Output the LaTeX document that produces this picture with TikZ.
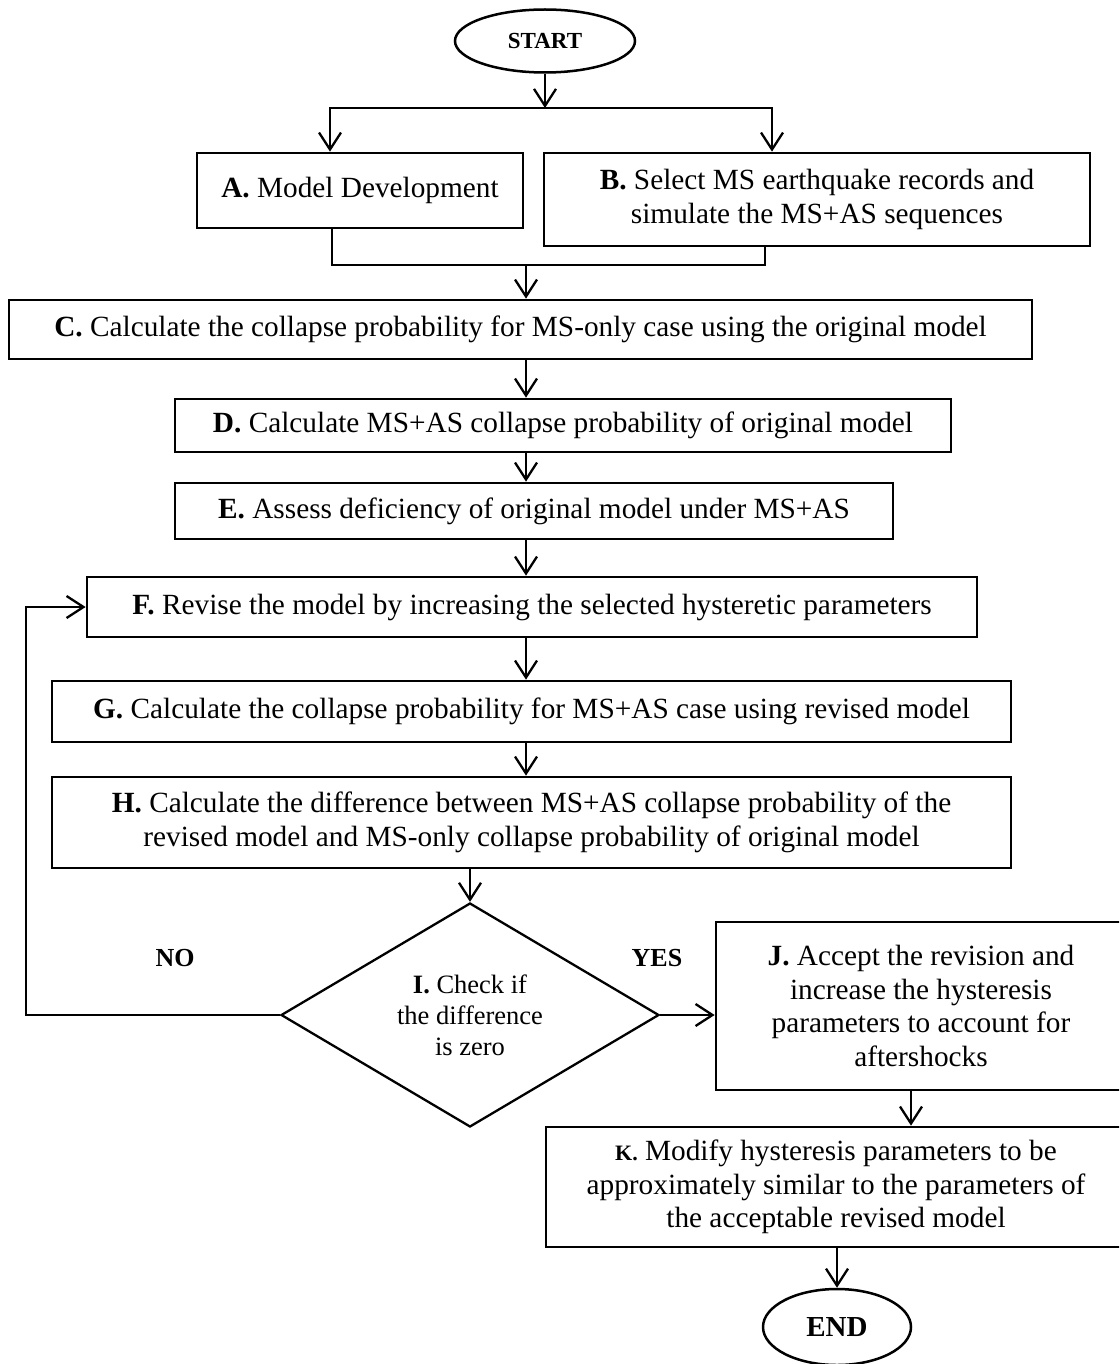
\documentclass[tikz,border=0pt]{standalone}
\usepackage{fontspec}
\setmainfont{Liberation Serif}
\usetikzlibrary{arrows.meta,shapes.geometric}
\begin{document}
\begin{tikzpicture}[x=1pt,y=-1pt,
  box/.style={draw, line width=2.7pt, rectangle, inner sep=0pt, align=center,
    font=\fontsize{29.3}{33.7}\selectfont},
  conn/.style={line width=2.3pt, line cap=rect, line join=miter},
  arr/.style={line width=2.3pt, line join=miter, -{Straight Barb[length=17pt,width=22pt]}},
  term/.style={draw, ellipse, line width=2.5pt, inner sep=0pt},
  lbl/.style={font=\bfseries\fontsize{26}{30}\selectfont, inner sep=0pt}]
\useasboundingbox (0,0) rectangle (1119,1364);
\clip (0,0) rectangle (1119,1364);

% nodes
\node[term, minimum width=180pt, minimum height=63pt,
  font=\bfseries\fontsize{23}{27}\selectfont] (start) at (545,41) {START};
\node[box, minimum width=326pt, minimum height=75pt] (A) at (360,190.5)
  {\textbf{A.} Model Development};
\node[box, minimum width=546pt, minimum height=93pt] (B) at (817,199.5)
  {\textbf{B.} Select MS earthquake records and\\simulate the MS+AS sequences};
\node[box, minimum width=1023pt, minimum height=59pt] (C) at (520.5,329.5)
  {\textbf{C.} Calculate the collapse probability for MS-only case using the original model};
\node[box, minimum width=776pt, minimum height=53pt] (D) at (563,425.5)
  {\textbf{D.} Calculate MS+AS collapse probability of original model};
\node[box, minimum width=718pt, minimum height=56pt] (E) at (534,511)
  {\textbf{E.} Assess deficiency of original model under MS+AS};
\node[box, minimum width=890pt, minimum height=60pt] (F) at (532,607)
  {\textbf{F.} Revise the model by increasing the selected hysteretic parameters};
\node[box, minimum width=959pt, minimum height=61pt] (G) at (531.5,711.5)
  {\textbf{G.} Calculate the collapse probability for MS+AS case using revised model};
\node[box, minimum width=959pt, minimum height=91pt] (H) at (531.5,822.5)
  {\textbf{H.} Calculate the difference between MS+AS collapse probability of the\\revised model and MS-only collapse probability of original model};
\node[draw, diamond, line width=2.3pt, inner sep=0pt, aspect=1.69,
  minimum width=378pt, minimum height=224pt, align=center,
  font=\fontsize{26.5}{30.8}\selectfont] (I) at (470,1015)
  {\textbf{I.} Check if\\the difference\\is zero};
\node[box, minimum width=410pt, minimum height=168pt] (J) at (921,1006)
  {\textbf{J.} Accept the revision and\\increase the hysteresis\\parameters to account for\\aftershocks};
\node[box, minimum width=580pt, minimum height=120pt] (K) at (836,1187)
  {{\bfseries\fontsize{22}{33.7}\selectfont K.} Modify hysteresis parameters to be\\approximately similar to the parameters of\\the acceptable revised model};
\node[term, minimum width=148pt, minimum height=76pt,
  font=\bfseries\fontsize{29}{33}\selectfont] (end) at (837,1327) {END};
\node[lbl] (no) at (175,958) {NO};
\node[lbl] (yes) at (657,958) {YES};

% helper coordinates
\coordinate (sp) at (545,108);
\coordinate (axL) at (330,0);
\coordinate (axR) at (772,0);
\coordinate (aB) at (332,0);
\coordinate (bB) at (765,0);
\coordinate (mg) at (526,265);
\coordinate (ax) at (526,0);
\coordinate (loop) at (26,0);
\coordinate (jk) at (911,0);

% connectors
\draw[arr] (start.south) -- (start.south |- sp);
\draw[conn] (sp -| axL) -- (sp -| axR);
\draw[arr] (sp -| axL) -- (A.north -| axL);
\draw[arr] (sp -| axR) -- (B.north -| axR);
\draw[conn] (A.south -| aB) |- (mg) -| (B.south -| bB);
\draw[arr] (mg) -- (C.north -| mg);
\draw[arr] (C.south -| ax) -- (D.north -| ax);
\draw[arr] (D.south -| ax) -- (E.north -| ax);
\draw[arr] (E.south -| ax) -- (F.north -| ax);
\draw[arr] (F.south -| ax) -- (G.north -| ax);
\draw[arr] (G.south -| ax) -- (H.north -| ax);
\draw[arr] (H.south -| I.north) -- (I.north);
\draw[arr] (I.west) -- (I.west -| loop) -- (loop |- F.west) -- (F.west);
\draw[arr] (I.east) -- (I.east -| J.west);
\draw[arr] (J.south -| jk) -- (K.north -| jk);
\draw[arr] (K.south -| end.north) -- (end.north);
\end{tikzpicture}
\end{document}
